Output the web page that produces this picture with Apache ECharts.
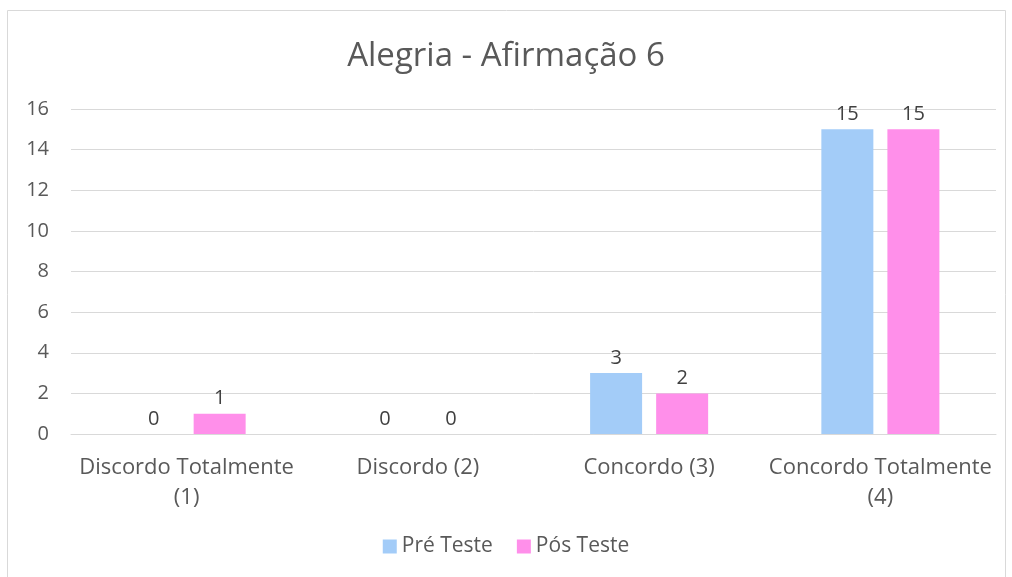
<!DOCTYPE html>
<html><head><meta charset="utf-8">
<script src="https://cdn.jsdelivr.net/npm/echarts@6/dist/echarts.min.js"></script>
<style>html,body{margin:0;padding:0;background:#fff}#c{width:1012px;height:577px}</style>
</head><body><div id="c"></div>
<script>
const categories = ['Discordo Totalmente\n(1)', 'Discordo (2)', 'Concordo (3)', 'Concordo Totalmente\n(4)'];
const preTeste = [0, 0, 3, 15];
const posTeste = [1, 0, 2, 15];
const seriesNames = ['Pré Teste', 'Pós Teste'];
const titleText = 'Alegria - Afirmação 6';

const chart = echarts.init(document.getElementById('c'));
const font = '"Open Sans", Lato, sans-serif';
const labelStyle = {show: true, position: 'top', color: '#404040', fontSize: 20, fontFamily: font, distance: 5};
chart.setOption({
  animation: false,
  graphic: [{type: 'rect', shape: {x: 7.5, y: 10.5, width: 998, height: 580}, style: {fill: 'none', stroke: '#d9d9d9', lineWidth: 1}}],
  title: {text: titleText, left: 'center', top: 35, textStyle: {fontFamily: font, fontSize: 33, fontWeight: 'normal', color: '#595959'}},
  legend: {bottom: 15, itemWidth: 14, itemHeight: 14, itemGap: 24, icon: 'rect',
    textStyle: {fontFamily: font, fontSize: 21, color: '#595959'}},
  grid: {left: 71, right: 16, top: 109, bottom: 143},
  xAxis: {type: 'category', data: categories,
    axisLine: {lineStyle: {color: '#d9d9d9'}}, axisTick: {show: false},
    axisLabel: {fontFamily: font, fontSize: 22, color: '#595959', margin: 19, lineHeight: 30, interval: 0}},
  yAxis: {type: 'value', min: 0, max: 16, interval: 2,
    axisLine: {show: false}, axisTick: {show: false},
    splitLine: {lineStyle: {color: '#d9d9d9'}},
    axisLabel: {fontFamily: font, fontSize: 20, color: '#595959', margin: 22}},
  series: [
    {name: seriesNames[0], type: 'bar', data: preTeste, barWidth: 52, barGap: '27%', itemStyle: {color: '#A3CCF8'}, label: labelStyle},
    {name: seriesNames[1], type: 'bar', data: posTeste, barWidth: 52, itemStyle: {color: '#FF8FEA'}, label: labelStyle}
  ]
});
</script></body></html>
